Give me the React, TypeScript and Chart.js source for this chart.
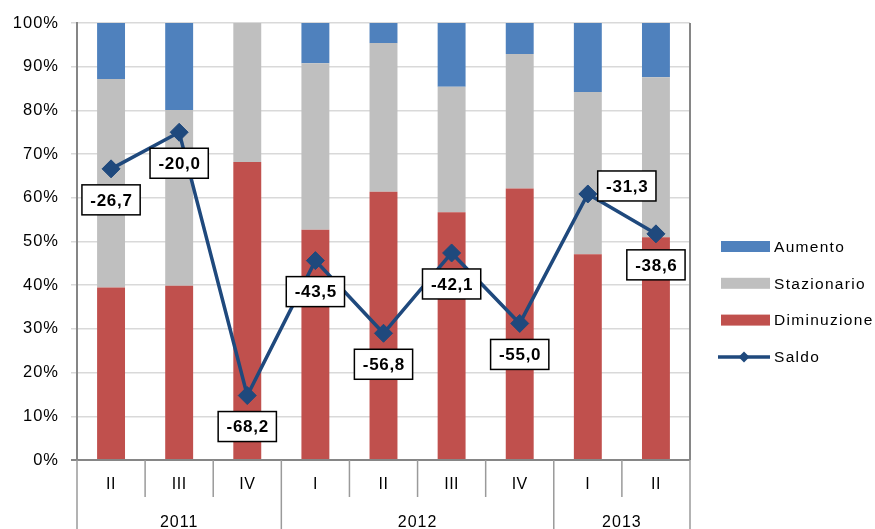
import React, { useEffect, useRef } from 'react';
import { Chart, registerables } from 'chart.js';

Chart.register(...registerables);

// ---- data ----
const quarters = ['II', 'III', 'IV', 'I', 'II', 'III', 'IV', 'I', 'II'];
const years = ['2011', '2012', '2013'];
const quartersPerYear = [3, 4, 2];
const aumento = [12.8, 19.9, 0, 9.2, 4.6, 14.6, 7.1, 15.8, 12.4];
const stazionario = [47.7, 40.2, 31.8, 38.1, 34.0, 28.7, 30.8, 37.1, 36.6];
const diminuzione = [39.5, 39.9, 68.2, 52.7, 61.4, 56.7, 62.1, 47.1, 51.0];
const saldo = [-26.7, -20.0, -68.2, -43.5, -56.8, -42.1, -55.0, -31.3, -38.6];
const saldoLabelSide = ['below', 'below', 'below', 'below', 'below', 'below', 'below', 'right', 'below'];

// ---- styles ----
const BLUE = '#4F81BD';
const GRAY = '#BFBFBF';
const RED = '#C0504D';
const LINE = '#1F497D';
const AXIS = '#868686';
const GRID = '#D9D9D9';
const FONT = '"Liberation Sans", Arial, sans-serif';

const fmt = (v: number) => v.toFixed(1).replace('.', ',');

const customPlugin = {
  id: 'custom',
  beforeDraw(chart: any) {
    (chart.ctx as any).letterSpacing = '1px';
  },
  afterDatasetsDraw(chart: any) {
    const ctx = chart.ctx as CanvasRenderingContext2D;
    const meta = chart.getDatasetMeta(0);
    ctx.save();
    (ctx as any).letterSpacing = '0.7px';
    ctx.font = `bold 17px ${FONT}`;
    ctx.textAlign = 'center';
    ctx.textBaseline = 'middle';
    meta.data.forEach((pt: any, i: number) => {
      const txt = fmt(saldo[i]);
      const tw = ctx.measureText(txt).width;
      const w = tw + 16;
      const h = 30;
      let cx = pt.x;
      let cy = pt.y + 31;
      if (saldoLabelSide[i] === 'right') {
        cx = pt.x + 39;
        cy = pt.y - 8;
      }
      ctx.fillStyle = '#FFFFFF';
      ctx.fillRect(cx - w / 2, cy - h / 2, w, h);
      ctx.strokeStyle = '#000000';
      ctx.lineWidth = 1.5;
      ctx.strokeRect(cx - w / 2, cy - h / 2, w, h);
      ctx.fillStyle = '#000000';
      ctx.fillText(txt, cx + 0.4, cy + 1);
    });
    ctx.restore();
  },
  afterDraw(chart: any) {
    const ctx = chart.ctx as CanvasRenderingContext2D;
    const { left, right, top, bottom } = chart.chartArea;
    const n = quarters.length;
    const cw = (right - left) / n;
    ctx.save();
    // bottom axis line
    ctx.strokeStyle = AXIS;
    ctx.lineWidth = 2;
    ctx.beginPath();
    ctx.moveTo(left - 6, bottom);
    ctx.lineTo(right, bottom);
    ctx.stroke();
    // right border
    ctx.beginPath();
    ctx.moveTo(right, top);
    ctx.lineTo(right, bottom);
    ctx.stroke();
    // separators
    const yearBounds = new Set<number>();
    let acc = 0;
    yearBounds.add(0);
    quartersPerYear.forEach((q) => {
      acc += q;
      yearBounds.add(acc);
    });
    ctx.strokeStyle = '#9A9A9A';
    ctx.lineWidth = 1.5;
    for (let i = 0; i <= n; i++) {
      const x = left + i * cw;
      ctx.beginPath();
      ctx.moveTo(x, bottom);
      ctx.lineTo(x, yearBounds.has(i) ? 540 : bottom + 37);
      ctx.stroke();
    }
    // quarter labels
    (ctx as any).letterSpacing = '0.5px';
    ctx.fillStyle = '#000000';
    ctx.font = `16px ${FONT}`;
    ctx.textAlign = 'center';
    ctx.textBaseline = 'middle';
    quarters.forEach((q, i) => {
      ctx.fillText(q, left + (i + 0.5) * cw, bottom + 25);
    });
    // year labels
    (ctx as any).letterSpacing = '1px';
    acc = 0;
    years.forEach((y, j) => {
      const s = acc;
      acc += quartersPerYear[j];
      ctx.fillText(y, left + ((s + acc) / 2) * cw, bottom + 63);
    });
    // legend
    (ctx as any).letterSpacing = '1.3px';
    ctx.font = `15.5px ${FONT}`;
    ctx.textAlign = 'left';
    const items = [
      { label: 'Aumento', color: BLUE, line: false },
      { label: 'Stazionario', color: GRAY, line: false },
      { label: 'Diminuzione', color: RED, line: false },
      { label: 'Saldo', color: LINE, line: true },
    ];
    const lx = right + 31;
    items.forEach((it, k) => {
      const cy = 246.5 + k * 36.8;
      if (it.line) {
        ctx.strokeStyle = it.color;
        ctx.lineWidth = 3.5;
        ctx.beginPath();
        ctx.moveTo(lx - 3, cy);
        ctx.lineTo(lx + 49, cy);
        ctx.stroke();
        ctx.fillStyle = it.color;
        ctx.beginPath();
        ctx.moveTo(lx + 23, cy - 5.5);
        ctx.lineTo(lx + 28.5, cy);
        ctx.lineTo(lx + 23, cy + 5.5);
        ctx.lineTo(lx + 17.5, cy);
        ctx.closePath();
        ctx.fill();
      } else {
        ctx.fillStyle = it.color;
        ctx.fillRect(lx, cy - 5.5, 49, 11);
      }
      ctx.fillStyle = '#000000';
      ctx.fillText(it.label, lx + 53, cy + 1);
    });
    ctx.restore();
    (ctx as any).letterSpacing = '0px';
  },
};

export default function App() {
  const ref = useRef<HTMLCanvasElement | null>(null);
  useEffect(() => {
    if (!ref.current) return;
    const chart = new Chart(ref.current, {
      type: 'bar',
      data: {
        labels: quarters,
        datasets: [
          {
            type: 'line',
            label: 'Saldo',
            data: saldo,
            yAxisID: 'y2',
            borderColor: LINE,
            backgroundColor: LINE,
            borderWidth: 3.5,
            pointStyle: 'rectRot',
            pointRadius: 9,
            pointBackgroundColor: LINE,
            pointBorderColor: LINE,
            pointBorderWidth: 1,
            tension: 0,
            order: 0,
          } as any,
          { label: 'Diminuzione', data: diminuzione, backgroundColor: RED, order: 1, stack: 's' },
          { label: 'Stazionario', data: stazionario, backgroundColor: GRAY, order: 1, stack: 's' },
          { label: 'Aumento', data: aumento, backgroundColor: BLUE, order: 1, stack: 's' },
        ],
      },
      options: {
        responsive: false,
        animation: false,
        devicePixelRatio: 1,
        layout: { padding: { top: 23, right: 185, left: 0, bottom: 0 } },
        datasets: { bar: { barPercentage: 0.41, categoryPercentage: 1 } },
        plugins: { legend: { display: false }, tooltip: { enabled: false } },
        scales: {
          x: {
            stacked: true,
            grid: { display: false },
            ticks: { display: false },
            border: { display: false },
            afterFit: (s: any) => {
              s.height = 69;
            },
          },
          y: {
            stacked: true,
            min: 0,
            max: 100,
            ticks: {
              stepSize: 10,
              callback: (v: any) => v + '%',
              color: '#000000',
              font: { family: FONT, size: 16.5 },
              padding: 12,
            },
            grid: { color: GRID, lineWidth: 1.5, tickLength: 6, tickColor: GRID },
            border: { color: AXIS, width: 2 },
            afterFit: (s: any) => {
              s.width = 77;
            },
          },
          y2: { display: false, min: -80, max: 0 },
        },
      } as any,
      plugins: [customPlugin],
    });
    return () => chart.destroy();
  }, []);
  return (
    <div style={{ position: 'absolute', left: 0, top: 0, width: 875, height: 529 }}>
      <canvas ref={ref} width={875} height={529} style={{ display: 'block' }} />
    </div>
  );
}
